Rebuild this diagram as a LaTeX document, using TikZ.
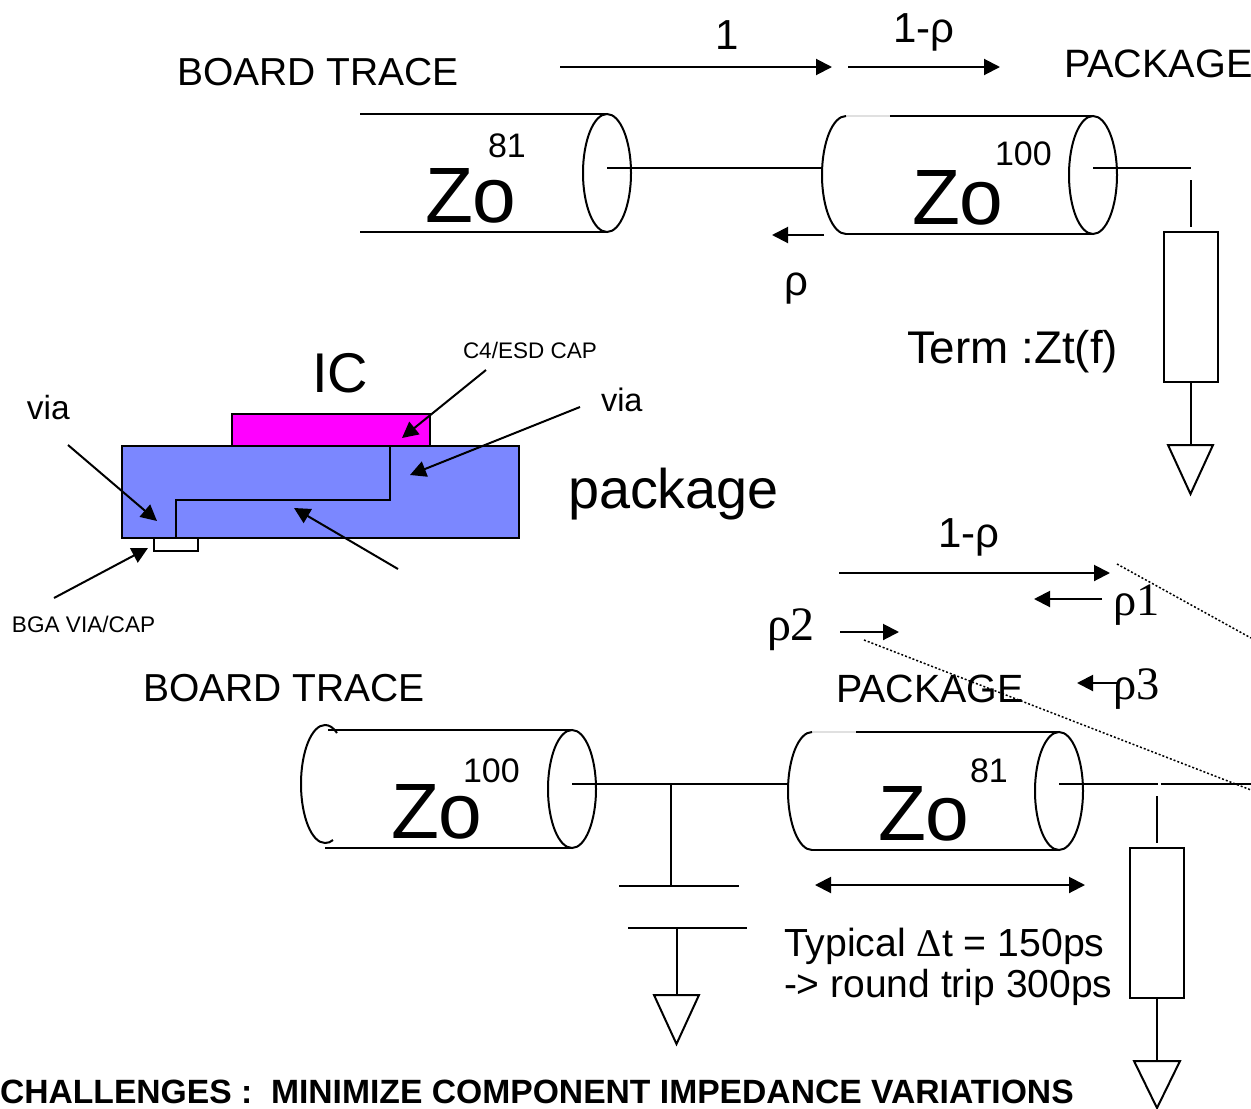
\documentclass[tikz,border=0pt]{standalone}
\usepackage{fontspec}
\setmainfont{Liberation Sans}
\newfontfamily\serifgr{Liberation Serif}
\usetikzlibrary{arrows.meta}
\definecolor{icfill}{RGB}{255,0,255}
\definecolor{pkgfill}{RGB}{123,135,255}
\tikzset{
  lbl/.style={anchor=base west,inner sep=0pt,outer sep=0pt,text=black},
  sz/.style={font=\fontsize{#1}{#1}\selectfont},
  szs/.style={font=\fontsize{#1}{#1}\selectfont\serifgr},
  wire/.style={draw=black,line width=2pt},
  arr/.style={draw=black,line width=2pt,-{Triangle[length=16pt,width=16pt]}},
  darr/.style={draw=black,line width=2pt,{Triangle[length=16pt,width=16pt]}-{Triangle[length=16pt,width=16pt]}},
  dots/.style={draw=black,line width=1.5pt,dash pattern=on 2pt off 2pt},
  ground/.style={draw=black,line width=2pt,fill=white},
  resistor/.style={draw=black,line width=2pt,fill=white},
}
\begin{document}
\begin{tikzpicture}[x=1pt,y=-1pt]
\useasboundingbox (0,0) rectangle (1251,1109);

% ---------- top: board trace cylinder
\draw[wire] (360,114) -- (607,114);
\draw[wire] (360,232) -- (607,232);
\draw[wire] (607,173) ellipse [x radius=24,y radius=59];
\coordinate (t1a) at (607,168); \coordinate (t1b) at (822,168);
\draw[wire] (t1a) -- (t1b);

% ---------- top: package cylinder
\draw[draw=black!12,line width=1.5pt] (846,116) -- (890,116);
\draw[draw=black,line width=1.2pt] (846,234) -- (890,234);
\draw[wire] (890,116) -- (1093,116);
\draw[wire] (890,234) -- (1093,234);
\draw[wire] (846,116) arc [start angle=-90,end angle=-270,x radius=24,y radius=59];
\draw[wire] (1093,175) ellipse [x radius=24,y radius=59];
\coordinate (t2a) at (1093,168); \coordinate (t2b) at (1191,168);
\draw[wire] (t2a) -- (t2b);
\coordinate (t3a) at (1190.5,180); \coordinate (t3b) at (1190.5,227);
\draw[wire] (t3a) -- (t3b);
\node[resistor,minimum width=54pt,minimum height=150pt,inner sep=0pt,outer sep=0pt] (rt) at (1190.5,307) {};
\node[inner sep=0pt] (gtp) at (1190.5,445) {};
\draw[wire] (rt.south) -- (gtp);
\draw[ground] (1168,445) -- (1213,445) -- (1190.5,494) -- cycle;

% ---------- top labels and arrows
\node[lbl,sz=39] (bt1) at (177,85) {BOARD TRACE};
\node[lbl,sz=39.6] (pk1) at (1064,77) {PACKAGE};
\node[lbl,sz=42] (one) at (715,49) {1};
\node[lbl,sz=42] (omr) at (893,42) {1-ρ};
\node[lbl,sz=42] (rho) at (784,295) {ρ};
\node[lbl,sz=78.5] (zo1) at (425,222) {Zo};
\node[lbl,sz=34] (n81a) at (488,157) {81};
\node[lbl,sz=78.5] (zo2) at (912,224) {Zo};
\node[lbl,sz=34] (n100a) at (995,165) {100};
\node[lbl,sz=45.8] (term) at (907,363) {Term :Zt(f)};
\coordinate (a1s) at (560,67); \coordinate (a1e) at (832,67);
\draw[arr] (a1s) -- (a1e);
\coordinate (a2s) at (848,67); \coordinate (a2e) at (1000,67);
\draw[arr] (a2s) -- (a2e);
\coordinate (a3s) at (824,235); \coordinate (a3e) at (772,235);
\draw[arr] (a3s) -- (a3e);

% ---------- package cross-section
\node[draw=black,line width=2pt,fill=icfill,minimum width=198pt,minimum height=32pt,inner sep=0pt,outer sep=0pt] (ic) at (331,430) {};
\node[draw=black,line width=2pt,fill=pkgfill,minimum width=397pt,minimum height=92pt,inner sep=0pt,outer sep=0pt] (pkg) at (320.5,492) {};
\node[draw=black,line width=2pt,fill=white,minimum width=44pt,minimum height=13pt,inner sep=0pt,outer sep=0pt] (bga) at (176,544.5) {};
\coordinate (tr1) at (390,446); \coordinate (tr2) at (390,500); \coordinate (tr3) at (176,500); \coordinate (tr4) at (176,538);
\draw[wire] (tr1) -- (tr2) -- (tr3) -- (tr4);
\node[lbl,sz=56] (ictxt) at (312,392) {IC};
\node[lbl,sz=22.5] (c4) at (463,358) {C4/ESD CAP};
\node[lbl,sz=33.5] (via1) at (27,419) {via};
\node[lbl,sz=32.5] (via2) at (601,411) {via};
\node[lbl,sz=55.8] (pkgtxt) at (568,508) {package};
\node[lbl,sz=22.6] (bgatxt) at (12,632) {BGA VIA/CAP};
\coordinate (b1s) at (68,445); \coordinate (b1e) at (157,521);
\draw[arr] (b1s) -- (b1e);
\coordinate (b2s) at (486,370); \coordinate (b2e) at (402,438);
\draw[arr] (b2s) -- (b2e);
\coordinate (b3s) at (580,407); \coordinate (b3e) at (410,475);
\draw[arr] (b3s) -- (b3e);
\coordinate (b4s) at (398,569); \coordinate (b4e) at (294,508);
\draw[arr] (b4s) -- (b4e);
\coordinate (b5s) at (54,598); \coordinate (b5e) at (148,548);
\draw[arr] (b5s) -- (b5e);

% ---------- bottom: board trace cylinder
\draw[wire] (328,730) -- (572,730);
\draw[wire] (325,848) -- (572,848);
\draw[wire] (337,733) .. controls (333,727) and (329,725) .. (325,725)
  arc [start angle=-90,end angle=-270,x radius=24,y radius=59]
  .. controls (328,843) and (331,842) .. (333,840);
\draw[wire] (572,789) ellipse [x radius=24,y radius=59];
\coordinate (w1a) at (572,784); \coordinate (w1b) at (788,784);
\draw[wire] (w1a) -- (w1b);

% ---------- bottom: package cylinder
\draw[draw=black!12,line width=1.5pt] (812,732) -- (856,732);
\draw[draw=black,line width=1.2pt] (812,850) -- (856,850);
\draw[wire] (856,732) -- (1059,732);
\draw[wire] (856,850) -- (1059,850);
\draw[wire] (812,732) arc [start angle=-90,end angle=-270,x radius=24,y radius=59];
\draw[wire] (1059,791) ellipse [x radius=24,y radius=59];
\coordinate (w2a) at (1059,784); \coordinate (w2b) at (1157.5,784);
\draw[wire] (w2a) -- (w2b);
\coordinate (w3a) at (1160.5,784); \coordinate (w3b) at (1251,784);
\draw[wire] (w3a) -- (w3b);
\coordinate (w4a) at (1157,796); \coordinate (w4b) at (1157,843);
\draw[wire] (w4a) -- (w4b);
\node[resistor,minimum width=54pt,minimum height=150pt,inner sep=0pt,outer sep=0pt] (rb) at (1157,923) {};
\node[inner sep=0pt] (gbp) at (1157,1061) {};
\draw[wire] (rb.south) -- (gbp);
\draw[ground] (1134,1061) -- (1180,1061) -- (1157,1108) -- cycle;

% ---------- capacitor
\coordinate (c1a) at (671,784); \coordinate (c1b) at (671,886);
\draw[wire] (c1a) -- (c1b);
\coordinate (p1a) at (619,886); \coordinate (p1b) at (739,886);
\draw[wire] (p1a) -- (p1b);
\coordinate (p2a) at (628,928); \coordinate (p2b) at (747,928);
\draw[wire] (p2a) -- (p2b);
\coordinate (c2a) at (677,928); \coordinate (c2b) at (677,995);
\draw[wire] (c2a) -- (c2b);
\draw[ground] (654,995) -- (699,995) -- (676.5,1044) -- cycle;

% ---------- bottom labels and arrows
\node[lbl,sz=39] (bt2) at (143,701) {BOARD TRACE};
\node[lbl,sz=39.4] (pk2) at (836,702) {PACKAGE};
\node[lbl,sz=42] (omr2) at (938,547) {1-ρ};
\node[lbl,szs=46.5] (r1) at (1113.5,615) {ρ1};
\node[lbl,szs=48] (r2) at (767,640) {ρ2};
\node[lbl,szs=46.5] (r3) at (1113.5,699) {ρ3};
\node[lbl,sz=78.5] (zo3) at (391,838) {Zo};
\node[lbl,sz=34] (n100b) at (463,782) {100};
\node[lbl,sz=78.5] (zo4) at (878,840) {Zo};
\node[lbl,sz=34] (n81b) at (970,782) {81};
\node[lbl,sz=39.2] (typ) at (784,956) {Typical {\serifgr Δ}t = 150ps};
\node[lbl,sz=39] (rt2) at (784,997) {-> round trip 300ps};
\node[lbl,font=\fontsize{33.65}{33.65}\selectfont\bfseries] (chal) at (0,1103) {CHALLENGES :\ \ MINIMIZE COMPONENT IMPEDANCE VARIATIONS};
\coordinate (d1s) at (839,573); \coordinate (d1e) at (1110,573);
\draw[arr] (d1s) -- (d1e);
\coordinate (d2s) at (1102,599); \coordinate (d2e) at (1034,599);
\draw[arr] (d2s) -- (d2e);
\coordinate (d3s) at (840,632); \coordinate (d3e) at (899,632);
\draw[arr] (d3s) -- (d3e);
\coordinate (d4s) at (1117,683); \coordinate (d4e) at (1077,683);
\draw[arr] (d4s) -- (d4e);
\coordinate (d5s) at (815,885); \coordinate (d5e) at (1085,885);
\draw[darr] (d5s) -- (d5e);
\coordinate (e1s) at (1117,564); \coordinate (e1e) at (1251,638);
\draw[dots] (e1s) -- (e1e);
\coordinate (e2s) at (864,640); \coordinate (e2e) at (1251,790);
\draw[dots] (e2s) -- (e2e);
\end{tikzpicture}
\end{document}
